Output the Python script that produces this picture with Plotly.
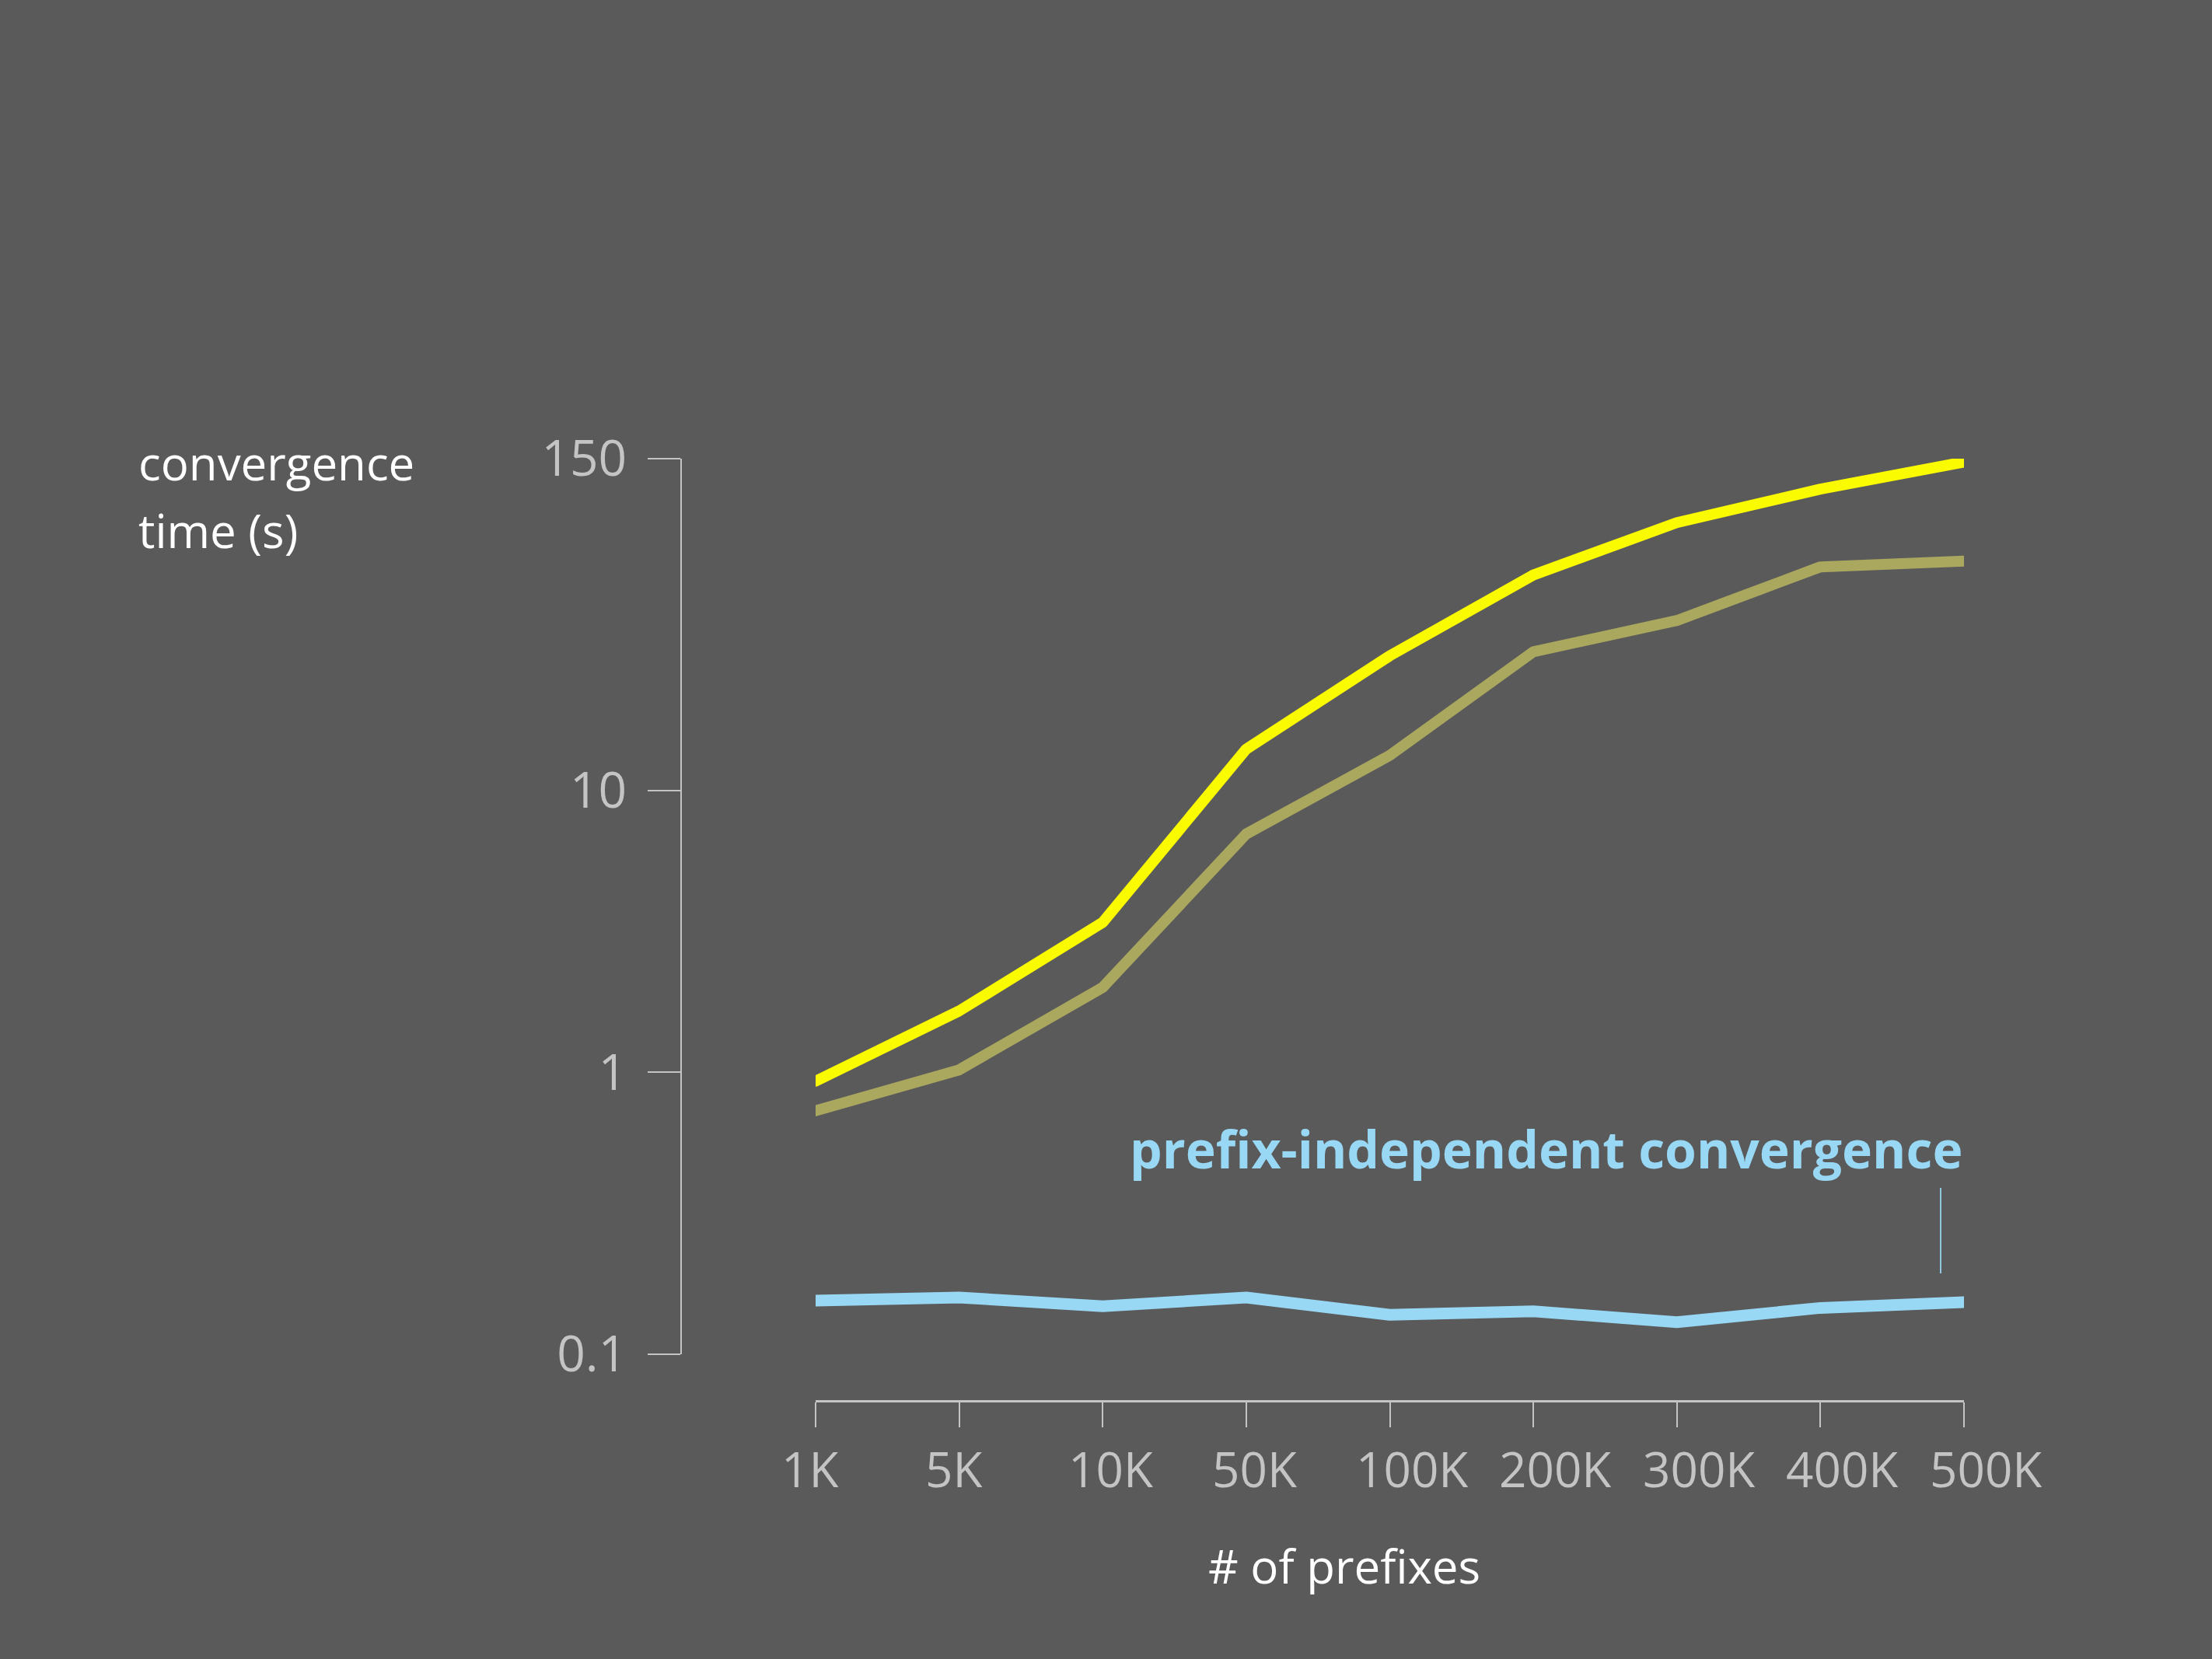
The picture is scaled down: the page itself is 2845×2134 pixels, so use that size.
import math
import plotly.graph_objects as go

prefixes = ['1K', '5K', '10K', '50K', '100K', '200K', '300K', '400K', '500K']
yellow_times = [0.93, 1.65, 3.4, 14.0, 30, 58, 89, 117, 146]
olive_times = [0.73, 1.02, 2.0, 7.0, 13.3, 31, 40, 62, 65]
blue_times = [0.155, 0.159, 0.148, 0.159, 0.138, 0.142, 0.130, 0.146, 0.153]

y_ticks = [0.1, 1, 10, 150]
y_ticktext = ['0.1', '1', '10', '150']

BG = '#5a5a5a'
AXIS = '#c4c4c4'
BLUE = '#99d8f5'
FONT = 'Open Sans'

fig = go.Figure()
fig.add_trace(go.Scatter(x=prefixes, y=olive_times, mode='lines',
                         line=dict(color='#aaa75f', width=14)))
fig.add_trace(go.Scatter(x=prefixes, y=yellow_times, mode='lines',
                         line=dict(color='#fafa00', width=14)))
fig.add_trace(go.Scatter(x=prefixes, y=blue_times, mode='lines',
                         line=dict(color=BLUE, width=15)))

W, H = 2845, 2134

# x tick labels sit left-aligned just before each tick in the original
tick_labels = [
    dict(text=p, xref='x', yref='paper', x=p, y=1 - 1889 / H,
         xanchor='left', yanchor='middle', xshift=-46, showarrow=False,
         font=dict(family=FONT, size=62, color=AXIS))
    for p in prefixes
]

fig.update_layout(
    width=W, height=H,
    paper_bgcolor=BG, plot_bgcolor=BG,
    margin=dict(l=0, r=0, t=0, b=0, autoexpand=False),
    showlegend=False,
    font=dict(family=FONT, color=AXIS, size=64),
    xaxis=dict(
        type='category', domain=[1049 / W, 2526 / W], range=[0, 8],
        anchor='free', position=1 - 1802 / H, automargin=False,
        showline=True, linecolor=AXIS, linewidth=3,
        ticks='outside', ticklen=32, tickwidth=2, tickcolor=AXIS,
        showgrid=False, zeroline=False, showticklabels=False,
    ),
    yaxis=dict(
        type='log', domain=[1 - 1742 / H, 1 - 590 / H],
        range=[-1, math.log10(150)],
        anchor='free', position=876 / W, automargin=False,
        showline=True, linecolor=AXIS, linewidth=2,
        ticks='outside', ticklen=42, tickwidth=2, tickcolor=AXIS,
        tickvals=y_ticks, ticktext=y_ticktext, ticklabelstandoff=14,
        showgrid=False, zeroline=False,
        tickfont=dict(size=64, color=AXIS),
    ),
    annotations=tick_labels + [
        dict(text='convergence', xref='paper', yref='paper',
             x=176 / W, y=1 - 595 / H, xanchor='left', yanchor='middle',
             showarrow=False, font=dict(family=FONT, size=60, color='white')),
        dict(text='time (s)', xref='paper', yref='paper',
             x=176 / W, y=1 - 682 / H, xanchor='left', yanchor='middle',
             showarrow=False, font=dict(family=FONT, size=60, color='white')),
        dict(text='# of prefixes', xref='paper', yref='paper',
             x=1729 / W, y=1 - 2014 / H, xanchor='center', yanchor='middle',
             showarrow=False, font=dict(family=FONT, size=60, color='white')),
        dict(text='<b>prefix-independent convergence</b>', xref='paper', yref='y',
             x=2526 / W, y=-0.269, xanchor='right', yanchor='middle', showarrow=False,
             font=dict(family=FONT, size=66, color=BLUE)),
    ],
    shapes=[
        dict(type='line', xref='paper', yref='paper', x0=2496 / W, x1=2496 / W,
             y0=1 - 1638 / H, y1=1 - 1528 / H,
             line=dict(color='#8fc6e0', width=2)),
    ],
)

fig.write_html(
    "out.html",
    config={'displayModeBar': False},
    post_script="document.body.style.margin='0';"
                "document.body.style.background='#5a5a5a';"
                "var s=document.createElement('style');"
                "s.textContent='.scatterlayer path.js-line{stroke-linecap:round !important;"
                "stroke-linejoin:round !important;}';"
                "document.head.appendChild(s);",
)
